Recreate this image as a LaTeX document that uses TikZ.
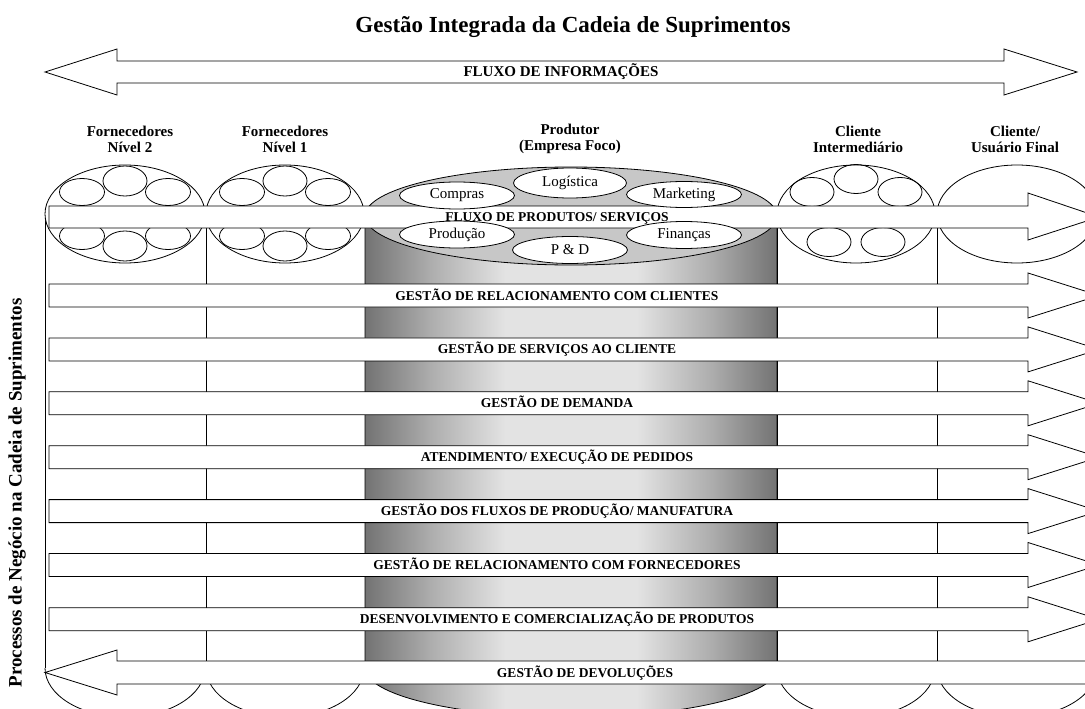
\documentclass[tikz,border=0pt]{standalone}
\usepackage{fontspec}
\setmainfont{Liberation Serif}
\usetikzlibrary{shapes.geometric}

\definecolor{cylfonce}{gray}{0.45}
\definecolor{cylmoyen}{gray}{0.68}
\definecolor{cylclair}{gray}{0.89}
\definecolor{dessus}{gray}{0.78}
\pgfdeclarehorizontalshading{cylindre}{100bp}{color(0bp)=(cylfonce); color(25bp)=(cylfonce);
  color(33bp)=(cylmoyen); color(42bp)=(cylclair); color(58bp)=(cylclair);
  color(67bp)=(cylmoyen); color(75bp)=(cylfonce); color(100bp)=(cylfonce)}

\begin{document}
\begin{tikzpicture}[
    x=1pt, y=-1pt,
    trait/.style={draw=black, line width=0.8pt},
    fleche/.style={draw=black, fill=white, line width=0.8pt, line join=miter},
    titre/.style={font=\fontsize{23}{26}\selectfont\bfseries},
    colonne/.style={font=\fontsize{15}{16}\selectfont\bfseries, align=center, inner sep=0pt},
    processus/.style={font=\fontsize{13.5}{14}\selectfont\bfseries, inner sep=0pt, text height=9pt, text depth=0pt},
    fonction/.style={ellipse, draw=black, fill=white, line width=0.8pt, inner sep=0pt,
      minimum width=115pt, minimum height=27pt, font=\fontsize{15}{16}\selectfont},
  ]
  \useasboundingbox (0,0) rectangle (1085,709);
  \clip (0,0) rectangle (1085,709);

  \node[titre] (titre) at (573,27) {Gestão Integrada da Cadeia de Suprimentos};

  % flux d'informations
  \draw[fleche] (45,72) -- (117,49) -- (117,61) -- (1004,61) -- (1004,49) -- (1077,72)
    -- (1004,95) -- (1004,83) -- (117,83) -- (117,95) -- cycle;
  \node[processus, font=\fontsize{15}{16}\selectfont\bfseries, text height=10pt] (info) at (561,72) {FLUXO DE INFORMAÇÕES};

  % en-tetes des colonnes
  \node[colonne] (forn2) at (130,139) {Fornecedores\\Nível 2};
  \node[colonne] (forn1) at (285,139) {Fornecedores\\Nível 1};
  \node[colonne] (produtor) at (570,139) {Produtor\\(Empresa Foco)};
  \node[colonne] (interm) at (858,139) {Cliente\\Intermediário};
  \node[colonne] (final) at (1015,139) {Cliente/\\Usuário Final};

  % cylindre de l'entreprise foco
  \shade[shading=cylindre] (365,216) -- (365,668)
    arc[start angle=180, end angle=360, x radius=206pt, y radius=49pt] -- (777,216) -- cycle;
  \draw[trait] (365,216) -- (365,668)
    arc[start angle=180, end angle=360, x radius=206pt, y radius=49pt] -- (777,216);
  \foreach \xa in {45,206,937}
    \draw[trait] (\xa,214) -- (\xa,668);
  \draw[trait] (777,214) -- (777,668);
  \foreach \xa/\r in {45/80pt, 206/79pt, 777/79pt, 937/80pt}
    \draw[trait] (\xa,668) arc[start angle=180, end angle=360, x radius=\r, y radius=49pt];

  % sommets des colonnes
  \foreach \cx/\r in {125/80pt, 285/79pt, 856/79pt, 1017/80pt}
    \draw[trait, fill=white] (\cx,214) ellipse [x radius=\r, y radius=49pt];
  \draw[trait, fill=dessus] (571,216) ellipse [x radius=206pt, y radius=49pt];

  \foreach \cx in {125,285}
    \foreach \dx/\dy/\rx/\ry in {-43/-22/22.5pt/13.5pt, 0/-33/22pt/15pt, 43/-22/22.5pt/13.5pt,
        -43/22/22.5pt/13.5pt, 0/32/22pt/15pt, 43/22/22.5pt/13.5pt}
      \draw[trait] (\cx+\dx,214+\dy) ellipse [x radius=\rx, y radius=\ry];
  \foreach \dx/\dy in {-44/-22, 0/-35, 44/-22, -27/28, 27/28}
    \draw[trait] (856+\dx,214+\dy) ellipse [x radius=22pt, y radius=14.5pt];

  % flux de produits
  \draw[fleche] (49,206) -- (1028,206) -- (1028,193) -- (1099,217) -- (1028,240)
    -- (1028,228) -- (49,228) -- cycle;

  % processus
  \foreach \yc/\txt [count=\i] in {
      295.5/{GESTÃO DE RELACIONAMENTO COM CLIENTES},
      349.4/{GESTÃO DE SERVIÇOS AO CLIENTE},
      403.3/{GESTÃO DE DEMANDA},
      457.2/{ATENDIMENTO/ EXECUÇÃO DE PEDIDOS},
      511.1/{GESTÃO DOS FLUXOS DE PRODUÇÃO/ MANUFATURA},
      565/{GESTÃO DE RELACIONAMENTO COM FORNECEDORES},
      619.3/{DESENVOLVIMENTO E COMERCIALIZAÇÃO DE PRODUTOS}} {
    \draw[fleche] (49,\yc-11.5) -- (1028,\yc-11.5) -- (1028,\yc-22.5) -- (1099,\yc)
      -- (1028,\yc+22.5) -- (1028,\yc+11.5) -- (49,\yc+11.5) -- cycle;
    \node[processus] (proc\i) at (557,\yc) {\txt};
  }

  % devolutions
  \draw[fleche] (45,672.5) -- (117,650) -- (117,661) -- (1100,661) -- (1100,684)
    -- (117,684) -- (117,695) -- cycle;
  \node[processus] (devol) at (585,672.5) {GESTÃO DE DEVOLUÇÕES};

  % fonctions de l'entreprise
  \node[fonction] (compras) at (457,195.5) {Compras};
  \node[fonction, minimum height=30pt, minimum width=113pt] (logistica) at (570,183) {Logística};
  \node[fonction, minimum height=26pt] (marketing) at (684,194.5) {Marketing};
  \node[fonction] (producao) at (457,234.5) {Produção};
  \node[fonction] (financas) at (684,235) {Finanças};
  \node[fonction] (pd) at (570,250) {P \& D};

  \node[processus] (produtos) at (557,217) {FLUXO DE PRODUTOS/ SERVIÇOS};

  \node[rotate=90, font=\fontsize{19}{20}\selectfont\bfseries] (processos) at (17,493)
    {Processos de Negócio na Cadeia de Suprimentos};
\end{tikzpicture}
\end{document}
